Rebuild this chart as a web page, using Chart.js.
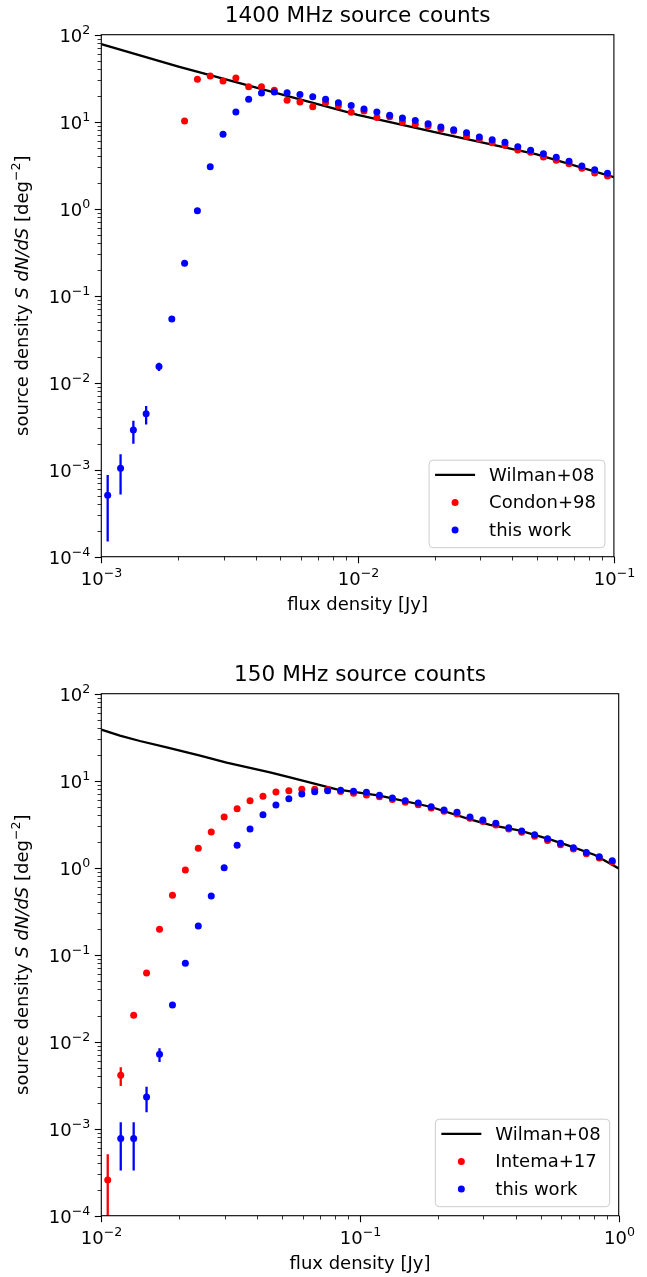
<!DOCTYPE html>
<html>
<head>
<meta charset="utf-8">
<script src="https://cdn.jsdelivr.net/npm/chart.js@4.4.0/dist/chart.umd.min.js"></script>
<style>
html,body{margin:0;padding:0;background:#fff;}
canvas{position:absolute;left:0;}
#topChart{top:0;}
#botChart{top:638px;}
</style>
</head>
<body>
<canvas id="topChart" width="647" height="638"></canvas>
<canvas id="botChart" width="647" height="639"></canvas>
<script>
// ---- 1400 MHz panel ----
const fluxTop = [
  0.001059,0.001189,0.001334,0.001496,0.001679,0.001884,0.002113,0.002371,0.002661,0.002985,
  0.003350,0.003758,0.004217,0.004732,0.005309,0.005957,0.006683,0.007499,0.008414,0.009441,
  0.01059,0.01189,0.01334,0.01496,0.01679,0.01884,0.02113,0.02371,0.02661,0.02985,
  0.03350,0.03758,0.04217,0.04732,0.05309,0.05957,0.06683,0.07499,0.08414,0.09441
];
const blueTop = [
  5.1e-4,1.04e-3,2.86e-3,4.4e-3,0.0154,0.054,0.236,0.95,3.04,7.16,
  12.9,18.1,21.4,21.9,21.5,20.6,19.4,18.1,16.5,15.4,
  14.0,12.9,11.9,11.0,10.3,9.48,8.69,8.09,7.48,6.67,
  6.21,5.80,5.16,4.69,4.29,3.90,3.51,3.10,2.81,2.55
];
const blueTopLo = [1.5e-4,5.2e-4,1.99e-3,3.3e-3,0.0136];
const blueTopHi = [8.7e-4,1.51e-3,3.66e-3,5.4e-3,0.017];
const condon = [
  null,null,null,null,null,null,10.2,30.7,33.5,29.4,
  31.8,25.2,25.2,23.0,17.7,16.8,14.9,16.5,15.3,12.8,
  13.3,11.2,11.4,10.0,9.33,8.93,8.24,7.81,6.79,6.32,
  5.74,5.36,4.73,4.45,3.93,3.60,3.29,2.91,2.57,2.38
];
const wilmanTopX = [0.001,0.002,0.005,0.01,0.02,0.05,0.1];
const wilmanTopY = [78,43,20.8,12.0,7.6,4.2,2.3];

// ---- 150 MHz panel ----
const fluxBot = [
  0.01059,0.01189,0.01334,0.01496,0.01679,0.01884,0.02113,0.02371,0.02661,0.02985,
  0.03350,0.03758,0.04217,0.04732,0.05309,0.05957,0.06683,0.07499,0.08414,0.09441,
  0.1059,0.1189,0.1334,0.1496,0.1679,0.1884,0.2113,0.2371,0.2661,0.2985,
  0.3350,0.3758,0.4217,0.4732,0.5309,0.5957,0.6683,0.7499,0.8414,0.9441
];
const blueBot = [
  null,7.7e-4,7.7e-4,2.31e-3,7.16e-3,0.0264,0.0796,0.214,0.473,1.0,
  1.81,2.79,4.07,5.26,6.21,7.03,7.48,7.67,7.76,7.58,
  7.36,6.79,6.32,5.89,5.54,5.02,4.60,4.33,3.83,3.53,
  3.24,2.88,2.64,2.39,2.15,1.91,1.70,1.50,1.34,1.20
];
const blueBotLo = [null,3.3e-4,3.3e-4,1.55e-3,5.85e-3];
const blueBotHi = [null,1.19e-3,1.19e-3,3.04e-3,8.4e-3];
const intema = [
  2.57e-4,4.11e-3,0.0201,0.0616,0.196,0.482,0.94,1.67,2.57,3.83,
  4.77,5.89,6.61,7.41,7.67,7.96,7.96,7.9,7.5,7.17,
  6.86,6.55,6.1,5.65,5.3,4.85,4.45,4.15,3.7,3.4,
  3.1,2.78,2.55,2.3,2.05,1.84,1.64,1.45,1.29,1.16
];
const intemaLo = [1e-5,3.1e-3];
const intemaHi = [5.1e-4,5.08e-3];
const wilmanBotX = [0.01,0.0118,0.0141,0.0179,0.0241,0.0305,0.0449,0.0536,0.0813,0.119,0.187,0.266,0.318,0.416,0.542,0.649,0.809,1.0];
const wilmanBotY = [38.6,32.9,28.6,24.2,19.4,16.1,12.5,10.9,7.96,6.72,5.02,3.60,3.10,2.66,2.12,1.77,1.40,0.98];

const FONT = '"DejaVu Sans", sans-serif';
const FS = 18;

function pts(xs, ys) {
  return xs.map((x, i) => ({x: x, y: ys[i] == null ? null : ys[i]}));
}

function drawPow(ctx, e, x, y, align) {
  const base = "10";
  const sup = e < 0 ? "\u2212" + (-e) : String(e);
  ctx.font = FS + "px " + FONT;
  const wb = ctx.measureText(base).width;
  ctx.font = (FS * 0.7) + "px " + FONT;
  const ws = ctx.measureText(sup).width;
  const x0 = align === "center" ? x - (wb + ws) / 2 : x - (wb + ws);
  ctx.textAlign = "left";
  ctx.textBaseline = "alphabetic";
  ctx.font = FS + "px " + FONT;
  ctx.fillText(base, x0, y);
  ctx.font = (FS * 0.7) + "px " + FONT;
  ctx.fillText(sup, x0 + wb, y - FS * 0.45);
}

function logTicks(min, max) {
  const out = [];
  for (let e = Math.floor(Math.log10(min)); e <= Math.ceil(Math.log10(max)); e++) {
    for (let m = 1; m < 10; m++) {
      const v = m * Math.pow(10, e);
      if (v >= min * 0.999 && v <= max * 1.001) out.push({v: v, major: m === 1, e: e});
    }
  }
  return out;
}

// error bars, under the markers
const errPlugin = {
  id: "errbars",
  beforeDatasetsDraw(chart, args, opts) {
    const ctx = chart.ctx, ca = chart.chartArea;
    const xs = chart.scales.x, ys = chart.scales.y;
    ctx.save();
    ctx.beginPath();
    ctx.rect(ca.left, ca.top, ca.right - ca.left, ca.bottom - ca.top);
    ctx.clip();
    ctx.lineWidth = 2.3;
    (opts.sets || []).forEach(s => {
      ctx.strokeStyle = s.color;
      s.lo.forEach((lo, i) => {
        if (lo == null) return;
        const px = xs.getPixelForValue(s.x[i]);
        ctx.beginPath();
        ctx.moveTo(px, ys.getPixelForValue(lo));
        ctx.lineTo(px, ys.getPixelForValue(s.hi[i]));
        ctx.stroke();
      });
    });
    ctx.restore();
  }
};

// frame, ticks, labels, title, legend in matplotlib style
const axesPlugin = {
  id: "mplaxes",
  afterDraw(chart, args, opts) {
    const ctx = chart.ctx, ca = chart.chartArea;
    const xs = chart.scales.x, ys = chart.scales.y;
    ctx.save();
    ctx.fillStyle = "#000";
    ctx.strokeStyle = "#000";

    // ticks
    logTicks(xs.min, xs.max).forEach(t => {
      const px = Math.round(xs.getPixelForValue(t.v)) + 0.5;
      ctx.lineWidth = t.major ? 1.1 : 0.8;
      ctx.beginPath();
      ctx.moveTo(px, ca.bottom);
      ctx.lineTo(px, ca.bottom + (t.major ? 6.5 : 3.8));
      ctx.stroke();
      if (t.major) drawPow(ctx, t.e, px, ca.bottom + 28, "center");
    });
    logTicks(ys.min, ys.max).forEach(t => {
      const py = Math.round(ys.getPixelForValue(t.v)) + 0.5;
      ctx.lineWidth = t.major ? 1.1 : 0.8;
      ctx.beginPath();
      ctx.moveTo(ca.left, py);
      ctx.lineTo(ca.left - (t.major ? 6.5 : 3.8), py);
      ctx.stroke();
      if (t.major) drawPow(ctx, t.e, ca.left - 11, py + 6.5, "right");
    });

    // frame
    ctx.lineWidth = 1.1;
    ctx.strokeRect(ca.left, ca.top, ca.right - ca.left, ca.bottom - ca.top);

    // title
    ctx.textAlign = "center";
    ctx.textBaseline = "middle";
    ctx.font = (FS * 1.2) + "px " + FONT;
    ctx.fillText(opts.title, (ca.left + ca.right) / 2, ca.top - 18);

    // x label
    ctx.font = FS + "px " + FONT;
    ctx.fillText("flux density [Jy]", (ca.left + ca.right) / 2, ca.bottom + 49);

    // y label: source density S dN/dS [deg^-2]
    const segs = [
      ["source density ", FS + "px " + FONT, 0],
      ["S dN/dS", "italic " + FS + "px " + FONT, 0],
      [" [deg", FS + "px " + FONT, 0],
      ["\u22122", (FS * 0.7) + "px " + FONT, -FS * 0.45],
      ["]", FS + "px " + FONT, 0]
    ];
    let total = 0;
    segs.forEach(s => { ctx.font = s[1]; s.w = ctx.measureText(s[0]).width; total += s.w; });
    ctx.save();
    ctx.translate(28, (ca.top + ca.bottom) / 2);
    ctx.rotate(-Math.PI / 2);
    ctx.textAlign = "left";
    ctx.textBaseline = "alphabetic";
    let cx = -total / 2;
    segs.forEach(s => { ctx.font = s[1]; ctx.fillText(s[0], cx, s[2]); cx += s.w; });
    ctx.restore();

    // legend
    const items = opts.legend;
    ctx.font = FS + "px " + FONT;
    let tw = 0;
    items.forEach(it => { tw = Math.max(tw, ctx.measureText(it.label).width); });
    const bw = 7 + 40 + 14 + tw + 8, bh = 87.5;
    const bx = ca.right - 9 - bw, by = ca.bottom - 9 - bh;
    ctx.beginPath();
    ctx.roundRect(bx, by, bw, bh, 4);
    ctx.fillStyle = "rgba(255,255,255,0.8)";
    ctx.fill();
    ctx.strokeStyle = "#cccccc";
    ctx.lineWidth = 1;
    ctx.stroke();
    items.forEach((it, i) => {
      const ry = by + 14.7 + i * 27.5;
      if (it.type === "line") {
        ctx.strokeStyle = it.color;
        ctx.lineWidth = 2.3;
        ctx.beginPath();
        ctx.moveTo(bx + 6, ry);
        ctx.lineTo(bx + 46, ry);
        ctx.stroke();
      } else {
        ctx.fillStyle = it.color;
        ctx.beginPath();
        ctx.arc(bx + 26, ry, 3.5, 0, Math.PI * 2);
        ctx.fill();
      }
      ctx.fillStyle = "#000";
      ctx.textAlign = "left";
      ctx.textBaseline = "middle";
      ctx.font = FS + "px " + FONT;
      ctx.fillText(it.label, bx + 60, ry + 1);
    });
    ctx.restore();
  }
};

function makePanel(id, cfg) {
  return new Chart(document.getElementById(id), {
    type: "line",
    data: {
      datasets: [
        {data: pts(cfg.lineX, cfg.lineY), borderColor: "#000", borderWidth: 2.3,
         pointRadius: 0, fill: false, tension: 0, order: 3},
        {data: pts(cfg.flux, cfg.ref), showLine: false, pointRadius: 3.5,
         pointBackgroundColor: "#ff0000", pointBorderWidth: 0, borderColor: "#ff0000", order: 2},
        {data: pts(cfg.flux, cfg.ours), showLine: false, pointRadius: 3.5,
         pointBackgroundColor: "#0000ff", pointBorderWidth: 0, borderColor: "#0000ff", order: 1}
      ]
    },
    options: {
      responsive: false,
      animation: false,
      events: [],
      layout: {padding: cfg.pad},
      scales: {
        x: {type: "logarithmic", min: cfg.xmin, max: cfg.xmax, display: false},
        y: {type: "logarithmic", min: 1e-4, max: 100, display: false}
      },
      plugins: {
        legend: {display: false},
        tooltip: {enabled: false},
        errbars: {sets: cfg.errs},
        mplaxes: {title: cfg.title, legend: cfg.legend}
      }
    },
    plugins: [errPlugin, axesPlugin]
  });
}

makePanel("topChart", {
  title: "1400 MHz source counts",
  flux: fluxTop, ours: blueTop, ref: condon,
  lineX: wilmanTopX, lineY: wilmanTopY,
  xmin: 1e-3, xmax: 0.1,
  pad: {left: 101.3, top: 34.7, right: 33.1, bottom: 81.3},
  errs: [{x: fluxTop, lo: blueTopLo, hi: blueTopHi, color: "#0000ff"}],
  legend: [
    {label: "Wilman+08", type: "line", color: "#000"},
    {label: "Condon+98", type: "dot", color: "#ff0000"},
    {label: "this work", type: "dot", color: "#0000ff"}
  ]
});

makePanel("botChart", {
  title: "150 MHz source counts",
  flux: fluxBot, ours: blueBot, ref: intema,
  lineX: wilmanBotX, lineY: wilmanBotY,
  xmin: 1e-2, xmax: 1,
  pad: {left: 101.3, top: 55.7, right: 28.3, bottom: 61.3},
  errs: [
    {x: fluxBot, lo: intemaLo, hi: intemaHi, color: "#ff0000"},
    {x: fluxBot, lo: blueBotLo, hi: blueBotHi, color: "#0000ff"}
  ],
  legend: [
    {label: "Wilman+08", type: "line", color: "#000"},
    {label: "Intema+17", type: "dot", color: "#ff0000"},
    {label: "this work", type: "dot", color: "#0000ff"}
  ]
});
</script>
</body>
</html>
